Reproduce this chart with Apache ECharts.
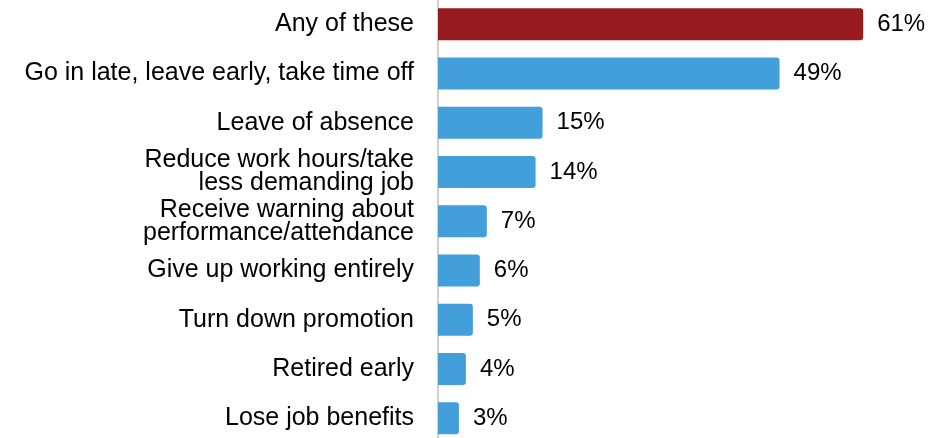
<!DOCTYPE html>
<html><head><meta charset="utf-8">
<script src="https://cdn.jsdelivr.net/npm/echarts@6/dist/echarts.min.js"></script>
<style>html,body{margin:0;padding:0;background:#fff}#c{width:930px;height:438px}</style>
</head><body><div id="c"></div>
<script>
const categories = [
  "Any of these",
  "Go in late, leave early, take time off",
  "Leave of absence",
  "Reduce work hours/take\nless demanding job",
  "Receive warning about\nperformance/attendance",
  "Give up working entirely",
  "Turn down promotion",
  "Retired early",
  "Lose job benefits"
];
const values = [61, 49, 15, 14, 7, 6, 5, 4, 3];
const highlightColor = "#971B20";
const baseColor = "#429FD9";

const chart = echarts.init(document.getElementById('c'), null, {renderer: 'canvas'});
chart.setOption({
  animation: false,
  grid: {left: 438, top: -0.3, right: 930 - 438 - 6.97 * 70, bottom: -4.9, containLabel: false, outerBoundsMode: 'none'},
  xAxis: {type: 'value', min: 0, max: 70, show: false},
  yAxis: {
    type: 'category', data: categories, inverse: true,
    axisLine: {show: true, lineStyle: {color: '#BFBFBF', width: 1.5}},
    axisTick: {show: false},
    axisLabel: {margin: 24, color: '#000', fontFamily: 'Liberation Sans, Arial, sans-serif', fontSize: 25, lineHeight: 23, align: 'right'}
  },
  series: [{
    type: 'bar', barWidth: 32,
    data: values.map((v, i) => ({value: v, itemStyle: {color: i === 0 ? highlightColor : baseColor}})),
    itemStyle: {borderRadius: [0, 3, 3, 0]},
    label: {show: true, position: 'right', distance: 14, formatter: p => p.value + '%', color: '#000', fontFamily: 'Liberation Sans, Arial, sans-serif', fontSize: 24}
  }]
});
</script></body></html>
